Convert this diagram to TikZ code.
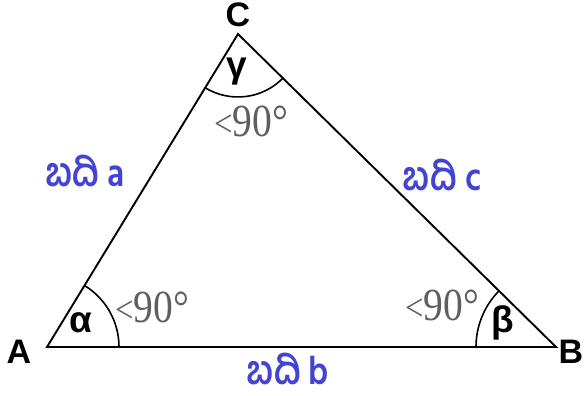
\documentclass[tikz,border=0pt]{standalone}
\usepackage{fontspec}
\setmainfont{Liberation Sans}
\newfontfamily\kanfont[Script=Kannada,FakeStretch=0.85]{Hind Mysuru}
\newfontfamily\degfont[FakeStretch=0.86]{Liberation Serif}
\definecolor{sidecol}{RGB}{68,68,210}
\definecolor{anglecol}{RGB}{95,95,95}

\begin{document}
\begin{tikzpicture}[x=1pt,y=1pt,
  edge/.style={line width=1.9pt,line join=miter},
  arcline/.style={line width=1.6pt},
  vertex/.style={font=\fontsize{34}{34}\selectfont\bfseries,inner sep=0pt},
  greek/.style={font=\fontsize{37}{37}\selectfont\bfseries,inner sep=0pt},
  lessdeg/.style={text=anglecol,font=\fontsize{46}{46}\selectfont\degfont,inner sep=0pt},
  sidelab/.style={text=sidecol,font=\fontsize{40}{40}\selectfont\kanfont\bfseries,inner sep=0pt,text depth=0pt,anchor=base}]
\useasboundingbox (0,0) rectangle (584,396);
% triangle
\coordinate (A) at (47,49);
\coordinate (B) at (556,49);
\coordinate (C) at (238,362);
\draw[edge] (A)--(B)--(C)--cycle;
% angle arcs
\draw[arcline] (A) ++(0:72) arc[start angle=0,end angle=58.6,radius=72];
\draw[arcline] (B) ++(135.5:80) arc[start angle=135.5,end angle=180,radius=80];
\draw[arcline] (C) ++(238.6:63) arc[start angle=238.6,end angle=315.5,radius=63];
% vertex labels
\node[vertex] (lblA) at (19,44) {A};
\node[vertex] (lblB) at (571,44) {B};
\node[vertex] (lblC) at (238,381) {C};
\node[greek] (angA) at (81,73) {α};
\node[greek] (angB) at (503,73) {β};
\node[greek] (angC) at (237,324) {γ};
\node[lessdeg] (ltA) at (152,89) {{\fontsize{38}{38}\selectfont<}90°};
\node[lessdeg] (ltB) at (442,91) {{\fontsize{38}{38}\selectfont<}90°};
\node[lessdeg] (ltC) at (251,275) {{\fontsize{38}{38}\selectfont<}90°};
% sides
\node[sidelab] (sideA) at (85,209) {ಬದಿ a};
\node[sidelab] (sideC) at (442,205) {ಬದಿ c};
\node[sidelab] (sideB) at (288,11) {ಬದಿ b};
\end{tikzpicture}
\end{document}
